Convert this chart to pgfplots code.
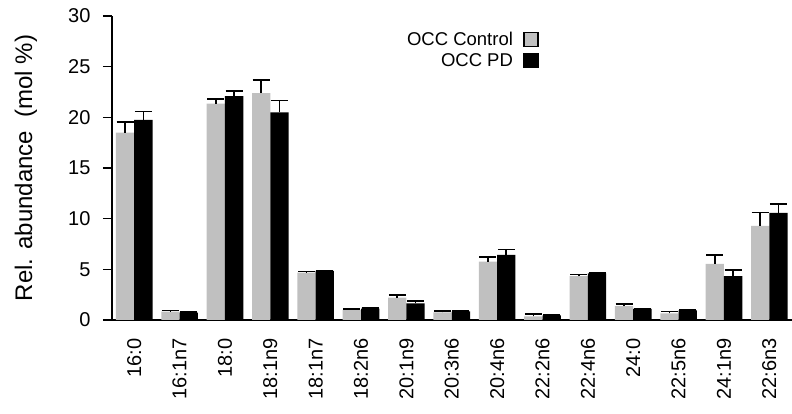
\documentclass[border=0pt]{standalone}
\usepackage{pgfplots}
\pgfplotsset{compat=1.18}
\usepackage{pgfplotstable}
\usepackage{fontspec}
\setmainfont{Liberation Sans}
\definecolor{ctrlgray}{RGB}{192,192,192}
\pgfplotstableread{
x  c      ce    p      pe
0  18.50  1.05  19.74  0.82
1  0.82   0.10  0.72   0.04
2  21.35  0.45  22.10  0.52
3  22.40  1.30  20.50  1.15
4  4.67   0.13  4.85   0.04
5  1.00   0.11  1.12   0.04
6  2.20   0.24  1.65   0.20
7  0.76   0.14  0.85   0.04
8  5.76   0.43  6.42   0.52
9  0.35   0.24  0.45   0.04
10 4.34   0.16  4.60   0.04
11 1.38   0.20  1.10   0.04
12 0.66   0.16  0.95   0.04
13 5.53   0.86  4.34   0.60
14 9.28   1.32  10.56  0.89
}\datatable
\begin{document}
\begin{tikzpicture}
\begin{axis}[
  name=ax,
  scale only axis,
  width=680pt, height=304pt,
  xmin=-0.49, xmax=14.5,
  ymin=0, ymax=30,
  ytick={0,5,...,30},
  xtick={0,...,14},
  xticklabels={16:0,16:1n7,18:0,18:1n9,18:1n7,18:2n6,20:1n9,20:3n6,20:4n6,22:2n6,22:4n6,24:0,22:5n6,24:1n9,22:6n3},
  axis x line=bottom, axis y line=left,
  axis line style={-, line width=1.6pt},
  x tick style={draw=none},
  y tick style={line width=1.6pt, black},
  tick align=outside,
  major tick length=9pt,
  /pgf/number format/assume math mode=true,
  tick label style={font=\fontsize{20}{22}\selectfont},
  yticklabel style={xshift=-9pt},
  xticklabel style={rotate=90, anchor=east, xshift=-6pt},
  ylabel={Rel. abundance\ \ (mol \%)},
  ylabel style={font=\fontsize{24}{26}\selectfont, at={(axis description cs:0,0.5)}, anchor=center, yshift=86pt},
  ybar=0pt, bar width=18.3pt,
  legend plot pos=right,
  legend cell align=right,
  legend style={draw=none, fill=none, at={(rel axis cs:0.632,0.962)}, anchor=north east,
    font=\fontsize{18.5}{20}\selectfont, row sep=3pt},
  legend image code/.code={\path (0pt,0pt); \draw[#1, line width=1.2pt, draw=black] (9pt,-7pt) rectangle (23pt,7pt);},
  error bars/y dir=plus, error bars/y explicit,
  error bars/error mark=|,
  error bars/error mark options={line width=1.6pt, mark size=8.5pt, black},
  error bars/error bar style={line width=1.6pt, black},
]
\addplot[fill=ctrlgray, draw=none] table[x=x, y=c, y error=ce]{\datatable};
\addlegendentry{OCC Control}
\addplot[fill=black, draw=none] table[x=x, y=p, y error=pe]{\datatable};
\addlegendentry{OCC PD}
\end{axis}
\pgfresetboundingbox
\path ([xshift=-112pt, yshift=-94pt]ax.south west) rectangle ([yshift=16pt]ax.north east);
\end{tikzpicture}
\end{document}
